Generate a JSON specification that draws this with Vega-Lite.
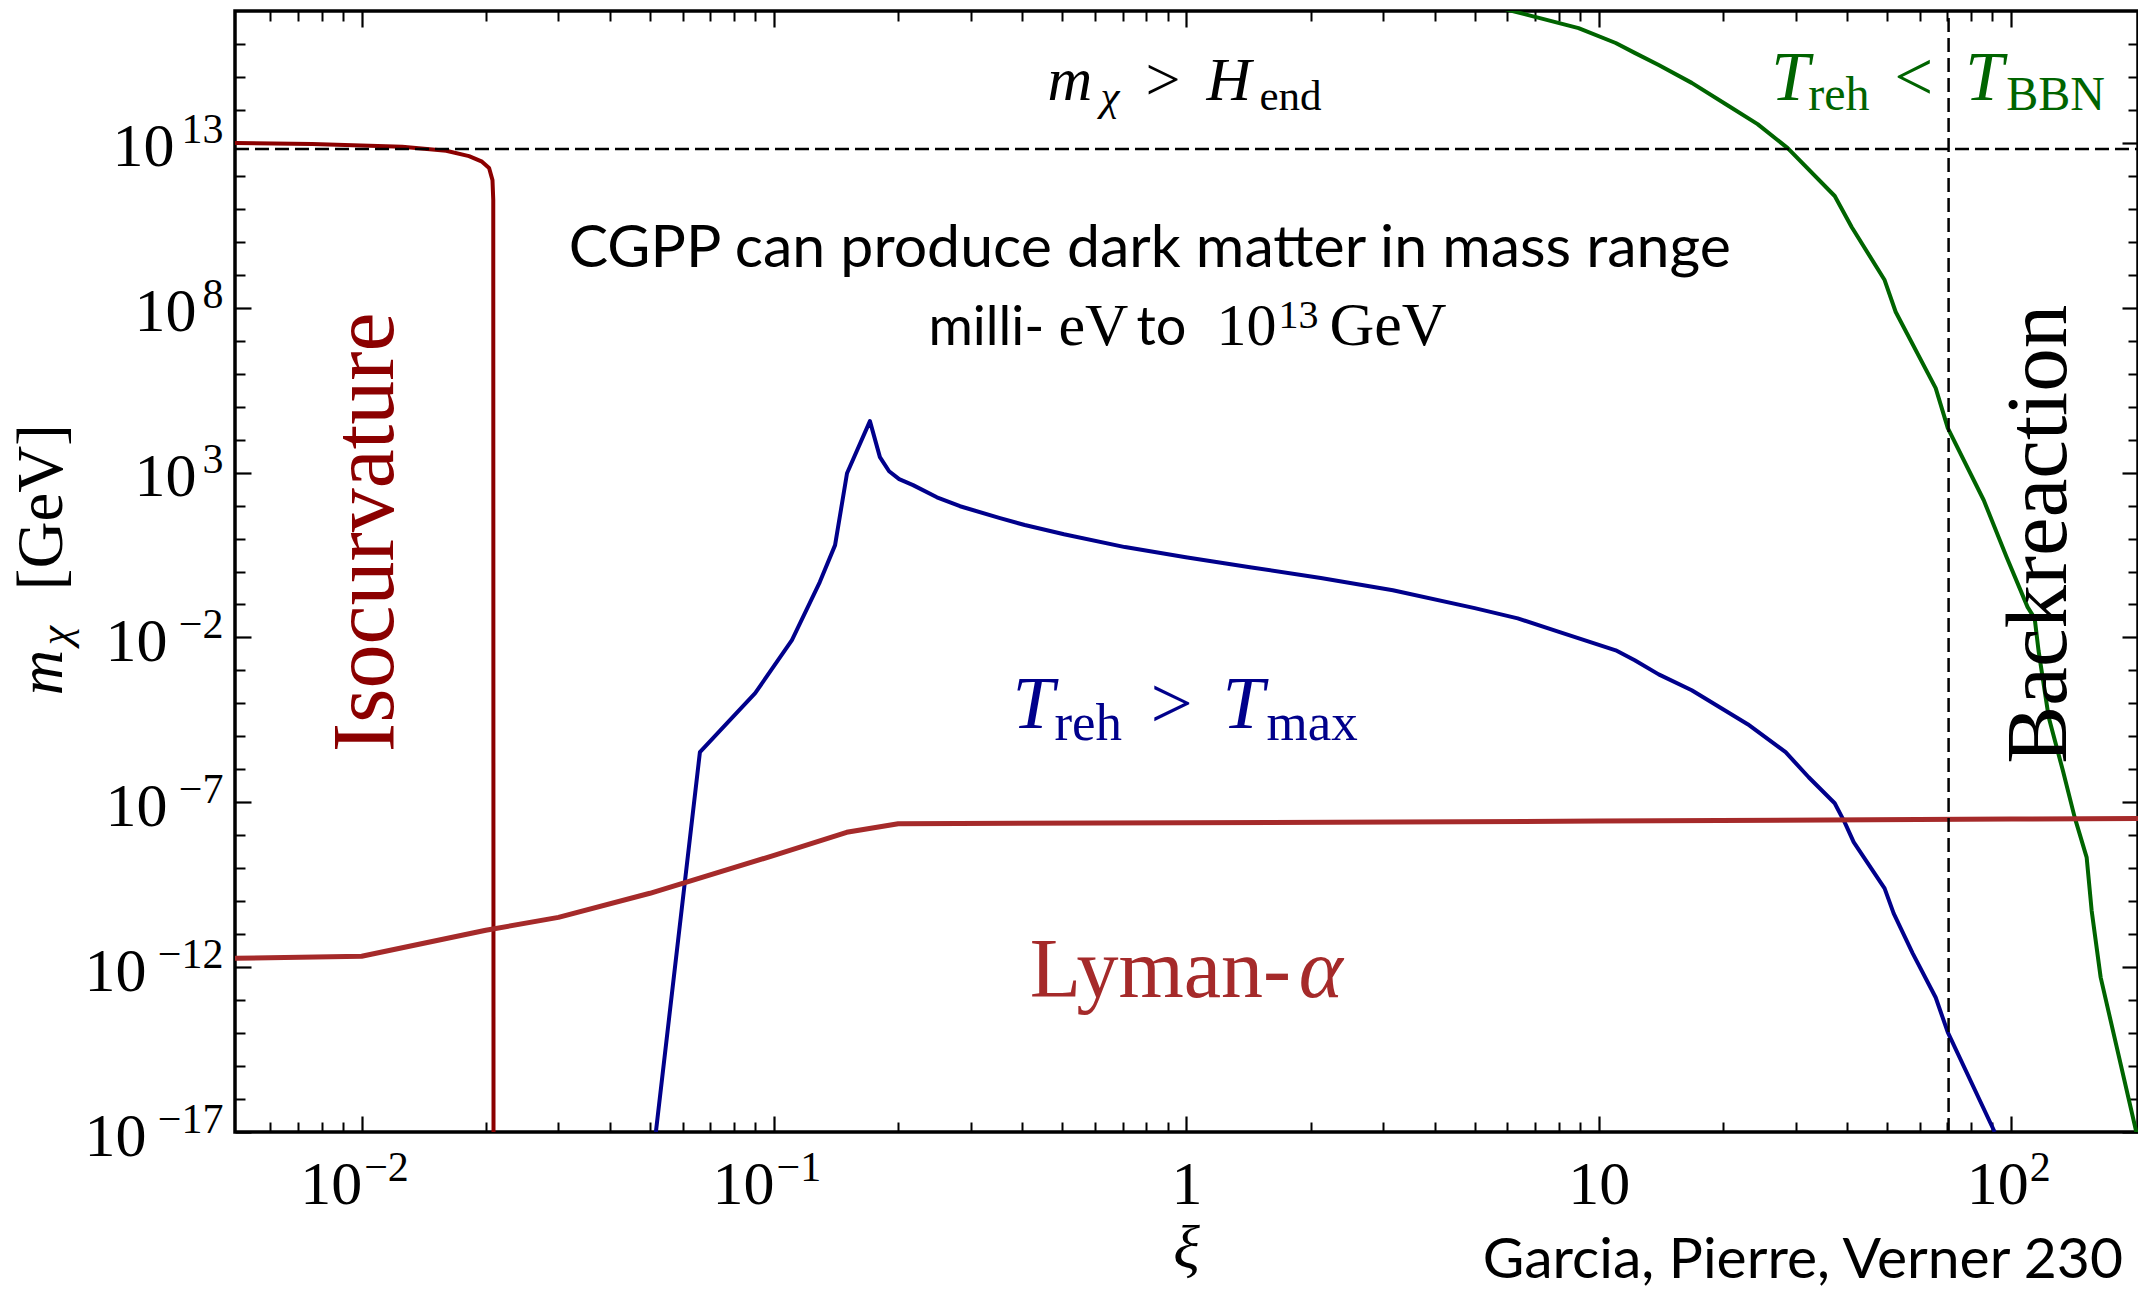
{
  "$schema": "https://vega.github.io/schema/vega-lite/v6.json",
  "width": 1903,
  "height": 1121,
  "autosize": {"type": "none"},
  "padding": {"left": 235, "top": 11, "right": 0, "bottom": 157},
  "background": "white",
  "config": {
    "view": {"stroke": "black", "strokeWidth": 3.5},
    "axis": {"grid": false, "domain": false, "labelOverlap": false, "labelFlush": false, "labelBound": false, "labelFont": "Liberation Serif", "labelColor": "black", "tickColor": "black"}
  },
  "encoding": {
    "x": {"field": "xi", "type": "quantitative", "scale": {"type": "log", "domain": [0.00493, 203], "nice": false}, "axis": null},
    "y": {"field": "m", "type": "quantitative", "scale": {"type": "log", "domain": [1e-17, 1e17], "nice": false}, "axis": null}
  },
  "layer": [
    {
      "data": {"values": [
        {"xi": 0.00493, "m": 1.0e13}, {"xi": 0.00759, "m": 9.23e12}, {"xi": 0.01254, "m": 7.59e12},
        {"xi": 0.01603, "m": 5.75e12}, {"xi": 0.01821, "m": 3.98e12}, {"xi": 0.01958, "m": 2.69e12},
        {"xi": 0.02037, "m": 1.74e12}, {"xi": 0.02076, "m": 7.41e11}, {"xi": 0.02085, "m": 1.86e11},
        {"xi": 0.02088, "m": 1e-17}
      ]},
      "mark": {"type": "line", "color": "#8B0000", "strokeWidth": 4, "clip": true, "strokeJoin": "round"},
      "encoding": {
        "x": {"field": "xi", "type": "quantitative", "scale": {"type": "log", "domain": [0.00493, 203], "nice": false},
          "axis": {"orient": "bottom", "title": null, "values": [0.01, 0.1, 1, 10, 100], "ticks": false, "tickSize": 0,
            "labelExpr": "datum.value == 1 ? '1' : '10'", "labelFontSize": 62, "labelBaseline": "alphabetic", "labelPadding": 71,
            "labelAlign": {"condition": {"test": "datum.value == 1 || datum.value == 10", "value": "center"}, "value": "right"},
            "labelOffset": {"condition": {"test": "datum.value > 50", "value": 17}, "value": 0}}},
        "y": {"field": "m", "type": "quantitative", "scale": {"type": "log", "domain": [1e-17, 1e17], "nice": false},
          "axis": {"orient": "left", "title": null, "values": [1e-17, 1e-12, 1e-7, 0.01, 1000, 1e8, 1e13], "ticks": false, "tickSize": 0,
            "labelExpr": "'10'", "labelFontSize": 62, "labelBaseline": "alphabetic", "labelAlign": "right", "labelOffset": 23,
            "labelPadding": {"condition": [{"test": "datum.value > 1e10", "value": 61}, {"test": "datum.value > 1", "value": 39}, {"test": "datum.value > 1e-10", "value": 68}], "value": 89}}}
      }
    },
    {
      "data": {"values": [
        {"xi": 0.0517, "m": 1e-17}, {"xi": 0.0661, "m": 3.31e-6}, {"xi": 0.0900, "m": 2.04e-4}, {"xi": 0.1105, "m": 8.32e-3},
        {"xi": 0.1291, "m": 0.479}, {"xi": 0.1406, "m": 6.31}, {"xi": 0.1503, "m": 955}, {"xi": 0.1708, "m": 36300},
        {"xi": 0.1806, "m": 2951}, {"xi": 0.1901, "m": 1096}, {"xi": 0.2011, "m": 631}, {"xi": 0.2173, "m": 417},
        {"xi": 0.2483, "m": 178}, {"xi": 0.2825, "m": 95.5}, {"xi": 0.3532, "m": 41.7}, {"xi": 0.4055, "m": 25.7},
        {"xi": 0.5047, "m": 13.5}, {"xi": 0.7096, "m": 5.50}, {"xi": 0.9965, "m": 2.69}, {"xi": 1.426, "m": 1.35},
        {"xi": 2.118, "m": 0.631}, {"xi": 3.167, "m": 0.269}, {"xi": 5.00, "m": 0.0776}, {"xi": 6.36, "m": 0.0380},
        {"xi": 8.04, "m": 0.0145}, {"xi": 10.99, "m": 4.07e-3}, {"xi": 12.22, "m": 2.04e-3}, {"xi": 13.97, "m": 7.59e-4},
        {"xi": 16.80, "m": 2.51e-4}, {"xi": 20.19, "m": 6.17e-5}, {"xi": 22.96, "m": 2.34e-5}, {"xi": 28.38, "m": 3.31e-6},
        {"xi": 32.28, "m": 5.75e-7}, {"xi": 37.33, "m": 9.33e-8}, {"xi": 39.47, "m": 2.45e-8}, {"xi": 41.50, "m": 6.17e-9},
        {"xi": 49.32, "m": 2.45e-10}, {"xi": 51.88, "m": 4.27e-11}, {"xi": 57.7, "m": 2.63e-12}, {"xi": 65.6, "m": 1.20e-13},
        {"xi": 70.2, "m": 1.05e-14}, {"xi": 91.2, "m": 1e-17}
      ]},
      "mark": {"type": "line", "color": "#00008B", "strokeWidth": 4, "clip": true, "strokeJoin": "round"},
      "encoding": {
        "x": {"field": "xi", "type": "quantitative", "scale": {"type": "log", "domain": [0.00493, 203], "nice": false},
          "axis": {"orient": "bottom", "title": null, "values": [0.01, 0.1, 100], "ticks": false, "tickSize": 0,
            "labelExpr": "(round(log(datum.value)/LN10) < 0 ? '−' : '') + abs(round(log(datum.value)/LN10))",
            "labelFontSize": 42, "labelBaseline": "alphabetic", "labelPadding": 48, "labelAlign": "left",
            "labelOffset": {"condition": {"test": "datum.value > 50", "value": 18}, "value": 2}}},
        "y": {"field": "m", "type": "quantitative", "scale": {"type": "log", "domain": [1e-17, 1e17], "nice": false},
          "axis": {"orient": "left", "title": null, "values": [1e-17, 1e-12, 1e-7, 0.01, 1000, 1e8, 1e13], "ticks": false, "tickSize": 0,
            "labelExpr": "(round(log(datum.value)/LN10) < 0 ? '−' : '') + abs(round(log(datum.value)/LN10))",
            "labelFontSize": 42, "labelBaseline": "alphabetic", "labelAlign": "right", "labelPadding": 12, "labelOffset": 0}}
      }
    },
    {
      "data": {"values": [
        {"xi": 5.0, "m": 2.0e17}, {"xi": 6.18, "m": 1e17}, {"xi": 8.93, "m": 3.02e16}, {"xi": 10.99, "m": 1.07e16},
        {"xi": 12.22, "m": 5.37e15}, {"xi": 13.97, "m": 2.29e15}, {"xi": 16.80, "m": 6.61e14}, {"xi": 20.65, "m": 1.32e14},
        {"xi": 24.27, "m": 3.72e13}, {"xi": 28.71, "m": 6.92e12}, {"xi": 37.33, "m": 2.45e11}, {"xi": 41.03, "m": 2.82e10},
        {"xi": 49.32, "m": 6.92e8}, {"xi": 52.48, "m": 7.41e7}, {"xi": 65.6, "m": 3.63e5}, {"xi": 70.2, "m": 2.24e4},
        {"xi": 85.8, "m": 145}, {"xi": 97.5, "m": 2.69}, {"xi": 109.6, "m": 0.0832}, {"xi": 114.0, "m": 0.0380},
        {"xi": 116.5, "m": 3.98e-3}, {"xi": 123.3, "m": 3.80e-5}, {"xi": 133.4, "m": 9.33e-7}, {"xi": 142.5, "m": 3.55e-8},
        {"xi": 152.4, "m": 2.14e-9}, {"xi": 156.7, "m": 5.25e-11}, {"xi": 164.8, "m": 4.90e-13}, {"xi": 203, "m": 6.0e-18}
      ]},
      "mark": {"type": "line", "color": "#006400", "strokeWidth": 4, "clip": true, "strokeJoin": "round"},
      "encoding": {
        "x": {"field": "xi", "type": "quantitative", "scale": {"type": "log", "domain": [0.00493, 203], "nice": false},
          "axis": {"orient": "bottom", "title": null, "values": [0.01, 0.1, 1, 10, 100], "labels": false, "tickSize": -16, "tickWidth": 2.2}},
        "y": {"field": "m", "type": "quantitative", "scale": {"type": "log", "domain": [1e-17, 1e17], "nice": false},
          "axis": {"orient": "left", "title": null, "values": [1e-17, 1e-12, 1e-7, 0.01, 1000, 1e8, 1e13], "labels": false, "tickSize": -16, "tickWidth": 2.2}}
      }
    },
    {
      "data": {"values": [
        {"xi": 0.00493, "m": 1.86e-12}, {"xi": 0.01, "m": 2.14e-12}, {"xi": 0.02, "m": 1.32e-11}, {"xi": 0.03, "m": 3.24e-11},
        {"xi": 0.05, "m": 1.74e-10}, {"xi": 0.1, "m": 2.45e-9}, {"xi": 0.15, "m": 1.23e-8}, {"xi": 0.2, "m": 2.24e-8},
        {"xi": 1, "m": 2.40e-8}, {"xi": 10, "m": 2.69e-8}, {"xi": 100, "m": 3.09e-8}, {"xi": 203, "m": 3.24e-8}
      ]},
      "mark": {"type": "line", "color": "#A52A2A", "strokeWidth": 5, "clip": true, "strokeJoin": "round"},
      "encoding": {
        "x": {"field": "xi", "type": "quantitative", "scale": {"type": "log", "domain": [0.00493, 203], "nice": false},
          "axis": {"orient": "bottom", "title": null, "labels": false, "tickSize": -10, "tickWidth": 2,
            "values": [0.006, 0.007, 0.008, 0.009, 0.02, 0.03, 0.04, 0.05, 0.06, 0.07, 0.08, 0.09, 0.2, 0.3, 0.4, 0.5, 0.6, 0.7, 0.8, 0.9, 2, 3, 4, 5, 6, 7, 8, 9, 20, 30, 40, 50, 60, 70, 80, 90]}},
        "y": {"field": "m", "type": "quantitative", "scale": {"type": "log", "domain": [1e-17, 1e17], "nice": false},
          "axis": {"orient": "left", "title": null, "labels": false, "tickSize": -10, "tickWidth": 2,
            "values": [1e-16, 1e-15, 1e-14, 1e-13, 1e-11, 1e-10, 1e-9, 1e-8, 1e-6, 1e-5, 1e-4, 1e-3, 0.1, 1, 10, 100, 1e4, 1e5, 1e6, 1e7, 1e9, 1e10, 1e11, 1e12, 1e14, 1e15, 1e16]}}
      }
    },
    {
      "data": {"values": [{"xi": 0.00493, "m": 6.5e12}, {"xi": 203, "m": 6.5e12}]},
      "mark": {"type": "line", "color": "black", "strokeWidth": 2.5, "strokeDash": [14, 6], "clip": true},
      "encoding": {
        "x": {"field": "xi", "type": "quantitative", "scale": {"type": "log", "domain": [0.00493, 203], "nice": false},
          "axis": {"orient": "top", "title": null, "values": [0.01, 0.1, 1, 10, 100], "labels": false, "tickSize": -16, "tickWidth": 2.2}},
        "y": {"field": "m", "type": "quantitative", "scale": {"type": "log", "domain": [1e-17, 1e17], "nice": false},
          "axis": {"orient": "right", "title": null, "values": [1e-17, 1e-12, 1e-7, 0.01, 1000, 1e8, 1e13], "labels": false, "tickSize": -16, "tickWidth": 2.2}}
      }
    },
    {
      "data": {"values": [{"xi": 70.5, "m": 1e-17}, {"xi": 70.5, "m": 1e17}]},
      "mark": {"type": "line", "color": "black", "strokeWidth": 2.5, "strokeDash": [14, 6], "clip": true},
      "encoding": {
        "x": {"field": "xi", "type": "quantitative", "scale": {"type": "log", "domain": [0.00493, 203], "nice": false},
          "axis": {"orient": "top", "title": null, "labels": false, "tickSize": -10, "tickWidth": 2,
            "values": [0.006, 0.007, 0.008, 0.009, 0.02, 0.03, 0.04, 0.05, 0.06, 0.07, 0.08, 0.09, 0.2, 0.3, 0.4, 0.5, 0.6, 0.7, 0.8, 0.9, 2, 3, 4, 5, 6, 7, 8, 9, 20, 30, 40, 50, 60, 70, 80, 90]}},
        "y": {"field": "m", "type": "quantitative", "scale": {"type": "log", "domain": [1e-17, 1e17], "nice": false},
          "axis": {"orient": "right", "title": null, "labels": false, "tickSize": -10, "tickWidth": 2,
            "values": [1e-16, 1e-15, 1e-14, 1e-13, 1e-11, 1e-10, 1e-9, 1e-8, 1e-6, 1e-5, 1e-4, 1e-3, 0.1, 1, 10, 100, 1e4, 1e5, 1e6, 1e7, 1e9, 1e10, 1e11, 1e12, 1e14, 1e15, 1e16]}}
      }
    },

    {"data": {"values": [{"xi": 1, "m": 2e14, "t": "m"}]}, "mark": {"type": "text", "align": "left", "baseline": "alphabetic", "font": "Liberation Serif", "fontStyle": "italic", "fontSize": 62, "dx": -139, "color": "black"}, "encoding": {"text": {"field": "t"}}},
    {"data": {"values": [{"xi": 1, "m": 2e14, "t": "χ"}]}, "mark": {"type": "text", "align": "left", "baseline": "alphabetic", "font": "Liberation Serif", "fontStyle": "italic", "fontSize": 43, "dx": -86, "dy": 10, "color": "black"}, "encoding": {"text": {"field": "t"}}},
    {"data": {"values": [{"xi": 1, "m": 2e14, "t": ">"}]}, "mark": {"type": "text", "align": "left", "baseline": "alphabetic", "font": "Liberation Serif", "fontSize": 62, "dx": -41, "color": "black"}, "encoding": {"text": {"field": "t"}}},
    {"data": {"values": [{"xi": 1, "m": 2e14, "t": "H"}]}, "mark": {"type": "text", "align": "left", "baseline": "alphabetic", "font": "Liberation Serif", "fontStyle": "italic", "fontSize": 62, "dx": 20, "color": "black"}, "encoding": {"text": {"field": "t"}}},
    {"data": {"values": [{"xi": 1, "m": 2e14, "t": "end"}]}, "mark": {"type": "text", "align": "left", "baseline": "alphabetic", "font": "Liberation Serif", "fontSize": 43, "dx": 73, "dy": 10, "color": "black"}, "encoding": {"text": {"field": "t"}}},

    {"data": {"values": [{"xi": 0.815, "m": 1.71e9, "t": "CGPP can produce dark matter in mass range"}]}, "mark": {"type": "text", "align": "center", "baseline": "alphabetic", "font": "Lato", "fontSize": 59, "color": "black"}, "encoding": {"text": {"field": "t"}}},
    {"data": {"values": [{"xi": 1, "m": 7.36e6, "t": "milli-"}]}, "mark": {"type": "text", "align": "left", "baseline": "alphabetic", "font": "Lato", "fontSize": 54, "dx": -258, "color": "black"}, "encoding": {"text": {"field": "t"}}},
    {"data": {"values": [{"xi": 1, "m": 7.36e6, "t": "eV"}]}, "mark": {"type": "text", "align": "left", "baseline": "alphabetic", "font": "Liberation Serif", "fontSize": 60, "dx": -128, "color": "black"}, "encoding": {"text": {"field": "t"}}},
    {"data": {"values": [{"xi": 1, "m": 7.36e6, "t": "to"}]}, "mark": {"type": "text", "align": "left", "baseline": "alphabetic", "font": "Lato", "fontSize": 54, "dx": -50, "color": "black"}, "encoding": {"text": {"field": "t"}}},
    {"data": {"values": [{"xi": 1, "m": 7.36e6, "t": "10"}]}, "mark": {"type": "text", "align": "left", "baseline": "alphabetic", "font": "Liberation Serif", "fontSize": 60, "dx": 30, "color": "black"}, "encoding": {"text": {"field": "t"}}},
    {"data": {"values": [{"xi": 1, "m": 7.36e6, "t": "13"}]}, "mark": {"type": "text", "align": "left", "baseline": "alphabetic", "font": "Liberation Serif", "fontSize": 40, "dx": 92, "dy": -17, "color": "black"}, "encoding": {"text": {"field": "t"}}},
    {"data": {"values": [{"xi": 1, "m": 7.36e6, "t": "GeV"}]}, "mark": {"type": "text", "align": "left", "baseline": "alphabetic", "font": "Liberation Serif", "fontSize": 62, "dx": 143, "color": "black"}, "encoding": {"text": {"field": "t"}}},

    {"data": {"values": [{"xi": 0.01191, "m": 15.5, "t": "Isocurvature"}]}, "mark": {"type": "text", "align": "center", "baseline": "alphabetic", "angle": 270, "font": "Liberation Serif", "fontSize": 88, "color": "#8B0000"}, "encoding": {"text": {"field": "t"}}},
    {"data": {"values": [{"xi": 135.5, "m": 13.5, "t": "Backreaction"}]}, "mark": {"type": "text", "align": "center", "baseline": "alphabetic", "angle": 270, "font": "Liberation Serif", "fontSize": 87, "color": "black"}, "encoding": {"text": {"field": "t"}}},

    {"data": {"values": [{"xi": 0.417, "m": 1.22e-13, "t": "Lyman-"}]}, "mark": {"type": "text", "align": "left", "baseline": "alphabetic", "font": "Liberation Serif", "fontSize": 84, "color": "#A52A2A"}, "encoding": {"text": {"field": "t"}}},
    {"data": {"values": [{"xi": 0.417, "m": 1.22e-13, "t": "α"}]}, "mark": {"type": "text", "align": "left", "baseline": "alphabetic", "font": "Liberation Serif", "fontStyle": "italic", "fontSize": 84, "dx": 269, "color": "#A52A2A"}, "encoding": {"text": {"field": "t"}}},

    {"data": {"values": [{"xi": 1, "m": 1.76e-5, "t": "T"}]}, "mark": {"type": "text", "align": "left", "baseline": "alphabetic", "font": "Liberation Serif", "fontStyle": "italic", "fontSize": 75, "dx": -174, "color": "#00008B"}, "encoding": {"text": {"field": "t"}}},
    {"data": {"values": [{"xi": 1, "m": 1.76e-5, "t": "reh"}]}, "mark": {"type": "text", "align": "left", "baseline": "alphabetic", "font": "Liberation Serif", "fontSize": 53, "dx": -132, "dy": 12, "color": "#00008B"}, "encoding": {"text": {"field": "t"}}},
    {"data": {"values": [{"xi": 1, "m": 1.76e-5, "t": ">"}]}, "mark": {"type": "text", "align": "left", "baseline": "alphabetic", "font": "Liberation Serif", "fontSize": 75, "dx": -36, "color": "#00008B"}, "encoding": {"text": {"field": "t"}}},
    {"data": {"values": [{"xi": 1, "m": 1.76e-5, "t": "T"}]}, "mark": {"type": "text", "align": "left", "baseline": "alphabetic", "font": "Liberation Serif", "fontStyle": "italic", "fontSize": 75, "dx": 36, "color": "#00008B"}, "encoding": {"text": {"field": "t"}}},
    {"data": {"values": [{"xi": 1, "m": 1.76e-5, "t": "max"}]}, "mark": {"type": "text", "align": "left", "baseline": "alphabetic", "font": "Liberation Serif", "fontSize": 53, "dx": 80, "dy": 12, "color": "#00008B"}, "encoding": {"text": {"field": "t"}}},

    {"data": {"values": [{"xi": 100, "m": 2e14, "t": "T"}]}, "mark": {"type": "text", "align": "left", "baseline": "alphabetic", "font": "Liberation Serif", "fontStyle": "italic", "fontSize": 69, "dx": -240, "color": "#006400"}, "encoding": {"text": {"field": "t"}}},
    {"data": {"values": [{"xi": 100, "m": 2e14, "t": "reh"}]}, "mark": {"type": "text", "align": "left", "baseline": "alphabetic", "font": "Liberation Serif", "fontSize": 48, "dx": -203, "dy": 10, "color": "#006400"}, "encoding": {"text": {"field": "t"}}},
    {"data": {"values": [{"xi": 100, "m": 2e14, "t": "<"}]}, "mark": {"type": "text", "align": "left", "baseline": "alphabetic", "font": "Liberation Serif", "fontSize": 69, "dx": -117, "color": "#006400"}, "encoding": {"text": {"field": "t"}}},
    {"data": {"values": [{"xi": 100, "m": 2e14, "t": "T"}]}, "mark": {"type": "text", "align": "left", "baseline": "alphabetic", "font": "Liberation Serif", "fontStyle": "italic", "fontSize": 69, "dx": -46, "color": "#006400"}, "encoding": {"text": {"field": "t"}}},
    {"data": {"values": [{"xi": 100, "m": 2e14, "t": "BBN"}]}, "mark": {"type": "text", "align": "left", "baseline": "alphabetic", "font": "Liberation Serif", "fontSize": 48, "dx": -5, "dy": 10, "color": "#006400"}, "encoding": {"text": {"field": "t"}}},

    {"data": {"values": [{"xi": 1, "m": 1e-17, "t": "ξ"}]}, "mark": {"type": "text", "align": "center", "baseline": "alphabetic", "font": "Liberation Serif", "fontStyle": "italic", "fontSize": 62, "dy": 136, "color": "black"}, "encoding": {"text": {"field": "t"}}},

    {"data": {"values": [{"xi": 0.00493, "m": 1.78e-4, "t": "m"}]}, "mark": {"type": "text", "align": "left", "baseline": "alphabetic", "angle": 270, "font": "Liberation Serif", "fontStyle": "italic", "fontSize": 63, "dy": -173, "color": "black"}, "encoding": {"text": {"field": "t"}}},
    {"data": {"values": [{"xi": 0.00493, "m": 1.78e-4, "t": "χ"}]}, "mark": {"type": "text", "align": "left", "baseline": "alphabetic", "angle": 270, "font": "Liberation Serif", "fontStyle": "italic", "fontSize": 44, "dx": 50, "dy": -165, "color": "black"}, "encoding": {"text": {"field": "t"}}},
    {"data": {"values": [{"xi": 0.00493, "m": 1.78e-4, "t": "[GeV]"}]}, "mark": {"type": "text", "align": "left", "baseline": "alphabetic", "angle": 270, "font": "Liberation Serif", "fontSize": 65, "dx": 105, "dy": -173, "color": "black"}, "encoding": {"text": {"field": "t"}}},

    {"data": {"values": [{"xi": 5.23, "m": 1e-17, "t": "Garcia, Pierre, Verner 230"}]}, "mark": {"type": "text", "align": "left", "baseline": "alphabetic", "font": "Lato", "fontSize": 57, "dy": 146, "color": "black"}, "encoding": {"text": {"field": "t"}}}
  ],
  "resolve": {"axis": {"x": "independent", "y": "independent"}}
}
